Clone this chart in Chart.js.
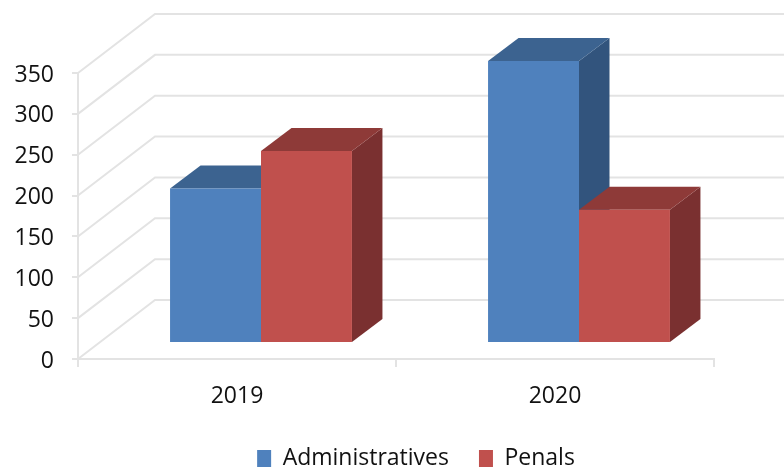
<!DOCTYPE html>
<html>
<head>
<meta charset="utf-8">
<script src="https://cdn.jsdelivr.net/npm/chart.js@4"></script>
<style>
    html, body { margin: 0; padding: 0; background: #fff; }
    canvas { display: block; }
</style>
</head>
<body>
<canvas id="barChart" width="784" height="468"></canvas>
<script>
const years = ['2019', '2020'];
const administratives = [189, 345];
const penals = [235, 163];
const yMax = 350;
const yStep = 50;

const gridColor = '#e3e3e3';
const textColor = '#111111';
const labelFont = { family: '"Open Sans"', size: 23 };

// depth of the fake 3D box
const wall = { dx: 77, dy: 59 };
const barShift = { dx: 24, dy: 16 };
const barDepth = { dx: 30.5, dy: 23 };

const faces = [
    { top: '#3c6390', side: '#32547d' },
    { top: '#8e3a38', side: '#7a3030' }
];

function poly(ctx, pts, color) {
    ctx.fillStyle = color;
    ctx.beginPath();
    pts.forEach((p, i) => i ? ctx.lineTo(p[0], p[1]) : ctx.moveTo(p[0], p[1]));
    ctx.closePath();
    ctx.fill();
}

const box3d = {
    id: 'box3d',
    afterLayout(chart) {
        // legend is centred under the bars, not the canvas
        chart.legend.left += 59;
        chart.legend.right += 59;
    },
    beforeDatasetsDraw(chart) {
        const ctx = chart.ctx;
        const area = chart.chartArea;
        const y = chart.scales.y;

        // back wall and left wall
        ctx.save();
        ctx.strokeStyle = gridColor;
        ctx.lineWidth = 2;
        y.ticks.forEach(t => {
            const py = y.getPixelForValue(t.value);
            ctx.beginPath();
            ctx.moveTo(area.left, py);
            ctx.lineTo(area.left + wall.dx, py - wall.dy);
            ctx.lineTo(chart.width, py - wall.dy);
            ctx.stroke();
        });
        ctx.restore();

        // bars sit a bit back from the axis plane
        ctx.save();
        ctx.translate(barShift.dx, -barShift.dy);
        chart.data.datasets.forEach((ds, i) => {
            chart.getDatasetMeta(i).data.forEach(bar => {
                const l = bar.x - bar.width / 2;
                const r = bar.x + bar.width / 2;
                const d = barDepth;
                poly(ctx, [[r, bar.y], [r + d.dx, bar.y - d.dy], [r + d.dx, bar.base - d.dy], [r, bar.base]], faces[i].side);
                poly(ctx, [[l, bar.y], [r, bar.y], [r + d.dx, bar.y - d.dy], [l + d.dx, bar.y - d.dy]], faces[i].top);
            });
        });
    },
    afterDatasetsDraw(chart) {
        chart.ctx.restore();
    }
};

new Chart(document.getElementById('barChart'), {
    type: 'bar',
    plugins: [box3d],
    data: {
        labels: years,
        datasets: [
            { label: 'Administratives', data: administratives, backgroundColor: '#4f81bd', clip: false },
            { label: 'Penals', data: penals, backgroundColor: '#c0504d', clip: false }
        ]
    },
    options: {
        responsive: false,
        animation: false,
        barPercentage: 1,
        categoryPercentage: 0.572,
        layout: { padding: { top: 73, right: 70, bottom: -12, left: 0 } },
        plugins: {
            tooltip: { enabled: false },
            legend: {
                position: 'bottom',
                labels: { boxWidth: 14, boxHeight: 17, padding: 30, color: textColor, font: labelFont }
            }
        },
        scales: {
            x: {
                afterFit: s => { s.height = 58; },
                grid: { drawOnChartArea: false, color: gridColor, lineWidth: 2, tickLength: 8 },
                border: { color: gridColor, width: 2 },
                ticks: { color: textColor, font: labelFont, padding: 16, maxRotation: 0 }
            },
            y: {
                min: 0,
                max: yMax,
                afterFit: s => { s.width = 78; },
                grid: { drawOnChartArea: false, color: gridColor, lineWidth: 2, tickLength: 6 },
                border: { color: gridColor, width: 2 },
                ticks: { stepSize: yStep, color: textColor, font: labelFont, padding: 18, labelOffset: 2 }
            }
        }
    }
});
</script>
</body>
</html>
